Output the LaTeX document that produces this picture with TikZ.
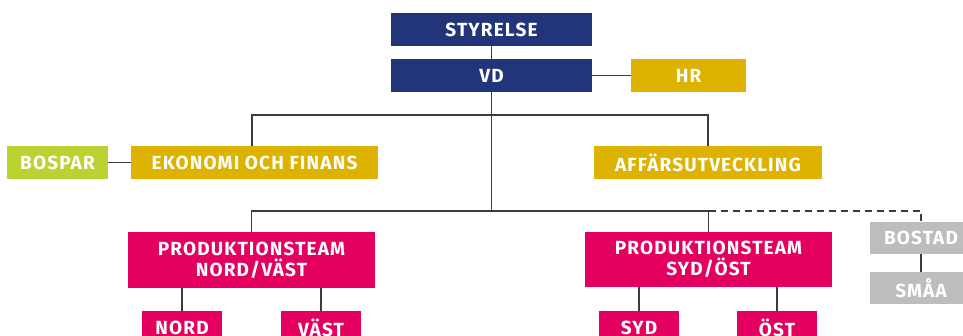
\documentclass[tikz,border=0pt]{standalone}
\usepackage{fontspec}
\setmainfont{Fira Sans}
\newfontfamily\lblfont{Fira Sans}[LetterSpace=6.0]
\definecolor{navy}{RGB}{34,52,122}
\definecolor{gold}{RGB}{221,178,0}
\definecolor{lime}{RGB}{188,210,50}
\definecolor{magenta}{RGB}{227,0,95}
\definecolor{lgray}{RGB}{189,189,189}
\definecolor{linec}{RGB}{60,60,60}
\begin{document}
\begin{tikzpicture}[x=1pt,y=-1pt,
  box/.style={inner sep=0pt, outer sep=0pt, text=white, font=\lblfont\bfseries\fontsize{19}{21}\selectfont, align=center},
  navybox/.style={box, fill=navy, minimum width=201pt, minimum height=33pt},
  goldbox/.style={box, fill=gold, minimum height=33pt},
  limebox/.style={box, fill=lime, minimum height=33pt},
  magbox/.style={box, fill=magenta},
  graybox/.style={box, fill=lgray, minimum width=102pt, minimum height=32pt},
  conn/.style={draw=linec, line width=1.3pt},
  dconn/.style={conn, dash pattern=on 7pt off 5pt}]
\useasboundingbox (0,0) rectangle (963,336);
\clip (0,0) rectangle (963,336);
\fill[white] (0,0) rectangle (963,336);
% nodes
\node[navybox] (sty) at (491.5,29.5) {STYRELSE};
\node[navybox] (vd) at (491.5,75.5) {VD};
\node[goldbox, minimum width=115pt] (hr) at (688.5,75.5) {HR};
\node[goldbox, minimum width=247pt] (eko) at (254.5,162.5) {EKONOMI OCH FINANS};
\node[limebox, minimum width=101pt] (bos) at (57.5,162.5) {BOSPAR};
\node[goldbox, minimum width=228pt] (aff) at (708,162.5) {AFFÄRSUTVECKLING};
\node[magbox, minimum width=247pt, minimum height=56pt] (pnv) at (251.5,260) {PRODUKTIONSTEAM\\NORD/VÄST};
\node[magbox, minimum width=247pt, minimum height=55pt] (pso) at (708.5,259.5) {PRODUKTIONSTEAM\\SYD/ÖST};
\node[graybox] (bostad) at (921,238) {BOSTAD};
\node[graybox] (smaa) at (921,288) {SMÅA};
\node[magbox, minimum width=80pt, minimum height=34pt] (nord) at (182,328) {NORD};
\node[magbox, minimum width=80pt, minimum height=34pt] (vast) at (321,328) {VÄST};
\node[magbox, minimum width=80pt, minimum height=34pt] (syd) at (639,328) {SYD};
\node[magbox, minimum width=80pt, minimum height=34pt] (ost) at (777,328) {ÖST};
\coordinate (j1) at (491.5,115);
\coordinate (j2) at (491.5,211);
% connectors
\draw[conn] (sty.south) -- (vd.north);
\draw[conn] (vd.east) -- (hr.west);
\draw[conn] (bos.east) -- (eko.west);
\draw[conn] (vd.south) -- (j2);
\draw[conn] ([xshift=-2.5pt]eko.north) |- (j1) -| (aff.north);
\draw[conn] (pnv.north) |- (j2) -| (pso.north);
\draw[dconn] (pso.north |- j2) -| (bostad.north);
\draw[conn] (bostad.south) -- (smaa.north);
\draw[conn] (nord.north |- pnv.south) -- (nord.north);
\draw[conn] (vast.north |- pnv.south) -- (vast.north);
\draw[conn] (syd.north |- pso.south) -- (syd.north);
\draw[conn] (ost.north |- pso.south) -- (ost.north);
\end{tikzpicture}
\end{document}
